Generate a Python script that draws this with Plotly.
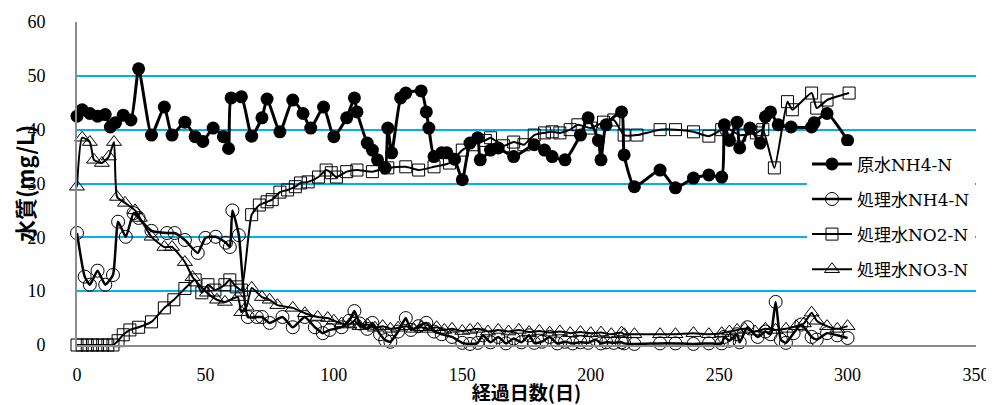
import plotly.graph_objects as go

# 原水NH4-N
d_raw = [0,2,5,8,11,13,15,18,21,24,29,34,37,42,46,49,53,57,59,60,64,68,72,74,79,84,88,91,96,100,
         105,108,109,113,115,117,120,121,122.5,126,128,134,136,137,139,142,144,147,150,153,
         156,157,161,164,170,178,182,185,190,196,199,203,204,206,212,213,217,227,233,240,
         246,251,252,254,257,258,262,266,268,270,273,278,286,287,292,300]
v_raw = [42.5,43.7,43,42.5,42.8,40.5,41.3,42.7,41.8,51.3,39,44.2,39,41.4,38.7,37.8,40.3,38.7,36.5,45.9,
         46.1,38.8,42.2,45.7,39.6,45.5,43,40.3,44.2,38.7,42.2,45.9,43.3,37.5,36.2,34.4,32.9,40.3,35.7,45.9,
         46.8,47.2,43.3,40.3,35,35.7,35.7,34.5,30.7,37.5,38.5,34.4,36.2,36.6,35,37.2,36.2,35,34.4,39,
         42.2,38,34.4,40.9,43.3,35.3,29.4,32.5,29.2,31,31.6,31.2,40.9,38,41.4,36.6,40.3,37.5,42.4,43.3,
         40.9,40.5,40.5,41.3,43,38]

# 処理水NH4-N
d_tn = [0,3,5,8,11,14,16,19,22,24,29,35,38,42,47,50,54,58,59.5,60.5,63,66.5,70,72,75,80,84,88.7,92.6,95.7,
        98.4,103,106,108,110,113,115,118,120,122,125,128,130,133,136,139,142,146,150,153,
        156,158,161,164,167,170,173,176,178,181,184,187,190,193,196,199,202,204,206,209,
        212,213,217,227,233,240,246,251,252,254,257,258,261,265,268,270,272,274,276,279,
        282,286,288,292,296,300]
v_tn = [20.8,12.7,11.2,13.8,11.2,13,22.9,20.1,24.5,23.6,21.2,20.8,20.8,19.5,17.1,19.9,20.1,19,18.2,25,
        20.4,5.2,5.2,5.2,4.1,5.2,3.3,5.2,3.3,2.2,2.8,3.3,4.5,6.3,4,3,4.1,2,0.9,0.6,
        2.5,5,2.8,3.5,4.1,2.5,2,1.5,0.4,0.2,0.4,1.8,0.5,1.5,0.3,1.2,0.5,1.8,0.4,0.6,
        1.5,0.3,0.6,0.3,0.5,0.4,1,0.3,0.5,0.4,0.5,0.3,0.2,0.3,0.3,0.2,0.3,0.3,1.5,0.8,
        2,0.5,3.3,1.5,2.5,2,8,1,0.4,2.2,3.8,1.5,1,2.2,1.8,1.3]

# 処理水NO2-N
d_no2 = [0,2,4,6,8,10,12,14,16,18,20.6,24,29,34,37.7,42,46,48.6,51,53.7,
         57.6,59.5,62,64,68,71,74,76,79,82,85,87,90,94,97,99,101,105,109,115,
         121,128,133,139,145,150,154,159,161,166,170,174,178,182,185,188,192,195,200,205,
         209,213,218,227,233,240,246,251,253,258,264.5,267,271.5,276.6,278.5,286,288,292,300.6]
v_no2 = [0,0,0,0,0,0,0,0,0.8,1.9,2.8,3.3,4.3,6.9,8.4,10.5,12.1,9.7,11.2,10.2,
         11.2,12.1,10.8,10.2,24.2,26,26.6,27,28.4,28.8,29.4,30.1,30.3,31.2,32.5,32,31.2,32.2,32.5,32.2,
         32.9,33.1,32.5,33.1,33.8,36.2,37.2,38,38.5,37,37.7,37.2,39,39.4,39.6,39.4,40,40.9,40.3,41.4,
         41.8,39,39,40,40,39.6,38.8,40,40.3,39,39.4,40,32.9,45.2,43.7,46.8,44,45.5,46.8]

# 処理水NO3-N
d_no3 = [0,2,5,6.6,9.7,12.4,14.4,15.6,18.7,22.6,24.5,29,34,37,42,45,50.6,54.5,57.6,62.6,
         64,66,68,72,75,78,84,88.7,93.7,97.6,100,103,106,108,110,113,116,119,122,125,
         128,131,134,137,140,143,146,150,153,156,160,164,168,172,176,180,184,188,192,196,
         200,204,208,212,213,217,227,233,240,246,251,254,257,260,264,268,272,276,280,283,
         286,288,292,296,300]
v_no3 = [29.4,38.5,37.7,34.4,33.8,35,37.7,27.5,26.4,25,23.6,20.1,18.2,18.2,15.4,12.6,9.7,8.4,8,8.9,
         6.1,7.1,10.6,8.9,8.4,7.4,6.9,5.9,5.2,5,4.5,4,3.8,4.5,3.5,3.8,3.2,3.5,3,3.2,
         3.5,3,3.3,3,3.3,2.8,3,2.6,2.8,3,2.5,2.8,2.5,2.8,2.4,2.6,2.3,2.5,2.2,2.4,
         2.2,2.3,2,2.3,2,2,2,2,2.2,2,2.2,2.5,2.8,3,2.5,3,2.8,3,3.5,4,
         6,4.5,3.5,3,3.5]

x_ticks = [0, 50, 100, 150, 200, 250, 300, 350]
y_ticks = [0, 10, 20, 30, 40, 50, 60]
names = ["原水NH4-N", "処理水NH4-N", "処理水NO2-N", "処理水NO3-N"]

fig = go.Figure()
series = [
    (d_raw, v_raw, dict(symbol="circle", size=13, color="black"), 3),
    (d_tn, v_tn, dict(symbol="circle-open", size=13, color="black", line=dict(width=1, color="black")), 2.5),
    (d_no2, v_no2, dict(symbol="square-open", size=12, color="black", line=dict(width=1, color="black")), 2),
    (d_no3, v_no3, dict(symbol="triangle-up-open", size=13, color="black", line=dict(width=1, color="black")), 2),
]
for i, (x, y, mk, lw) in enumerate(series):
    fig.add_trace(go.Scatter(
        x=x, y=y, name=names[i], mode="lines+markers", legendgroup=str(i),
        line=dict(color="black", width=lw, shape="spline", smoothing=0.5),
        marker=mk, cliponaxis=False,
    ))

# The page body has an 8px default margin, so the figure is sized to fill the rest of the window.
tick_font = dict(family="Liberation Serif, Noto Sans CJK JP", size=18, color="black")
fig.update_layout(
    width=986, height=397, autosize=False,
    margin=dict(l=69, r=18, t=14, b=60),
    plot_bgcolor="white", paper_bgcolor="white",
    showlegend=True,
    legend=dict(x=0.812, y=0.615, xanchor="left", yanchor="top", bgcolor="white",
                font=dict(family="DejaVu Serif, Noto Sans CJK JP", size=17, color="black"),
                tracegroupgap=10, itemwidth=40),
    xaxis=dict(range=[0, 350], tickvals=x_ticks, showgrid=False, zeroline=False, automargin=False,
               showline=True, linecolor="#8c8c8c", linewidth=2, ticks="",
               tickfont=tick_font, ticklabelstandoff=12,
               title=dict(text="経過日数(日)", standoff=0,
                          font=dict(family="Noto Sans CJK JP", size=19, color="black", weight="bold"))),
    yaxis=dict(range=[0, 60], tickvals=y_ticks, showgrid=True, gridcolor="#00B0F0", gridwidth=2,
               zeroline=False, showline=True, linecolor="#8c8c8c", linewidth=2, ticks="", automargin=False,
               tickfont=tick_font, ticklabelstandoff=26,
               title=dict(text="水質(mg/L)", standoff=2,
                          font=dict(family="Noto Sans CJK JP", size=22, color="black", weight="bold"))),
)
fig.write_html("out.html")
